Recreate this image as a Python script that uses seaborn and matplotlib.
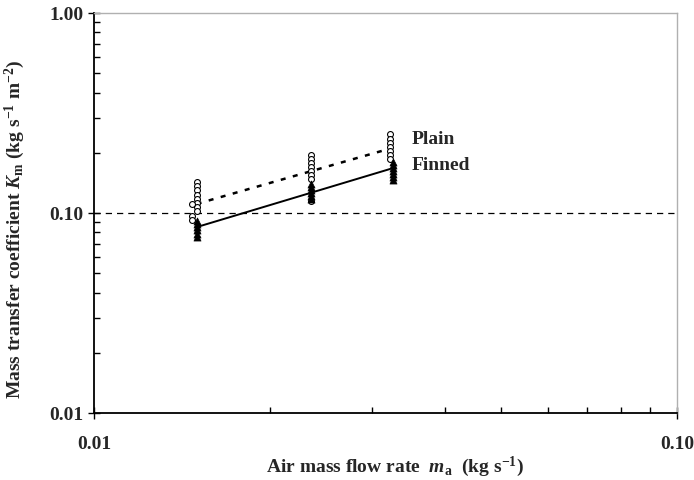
import numpy as np
import pandas as pd
import seaborn as sns
import matplotlib.pyplot as plt
from matplotlib.ticker import FixedLocator, LogLocator, NullFormatter

sns.set_style('white')
plt.rcParams['font.family'] = ['Liberation Serif', 'DejaVu Serif']
plt.rcParams['font.weight'] = 'bold'
plt.rcParams['mathtext.fontset'] = 'custom'
plt.rcParams['mathtext.rm'] = 'Liberation Serif:bold'
plt.rcParams['mathtext.it'] = 'Liberation Serif:bold:italic'
plt.rcParams['mathtext.bf'] = 'Liberation Serif:bold'

# Plain tube measurements
plain_flow = [0.0150] * 8 + [0.0147] * 3 + [0.0236] * 7 + [0.0236] + [0.0322] * 7
plain_coef = [0.143, 0.137, 0.130, 0.123, 0.117, 0.112, 0.107, 0.102,
              0.111, 0.0966, 0.0922,
              0.195, 0.187, 0.178, 0.170, 0.163, 0.155, 0.148,
              0.115,
              0.247, 0.235, 0.225, 0.215, 0.205, 0.196, 0.187]

# Finned tube measurements
finned_flow = [0.0150] * 6 + [0.0236] * 6 + [0.0326] * 7
finned_coef = [0.091, 0.0878, 0.0847, 0.0818, 0.0789, 0.0762,
               0.140, 0.135, 0.130, 0.126, 0.122, 0.118,
               0.180, 0.174, 0.168, 0.162, 0.157, 0.152, 0.147]

# Fitted lines
fit_flow = [0.0150, 0.0322]
plain_fit = [0.111, 0.210]
finned_fit = [0.085, 0.166]

plain_df = pd.DataFrame({'flow': plain_flow, 'coef': plain_coef})
finned_df = pd.DataFrame({'flow': finned_flow, 'coef': finned_coef})
fit_df = pd.DataFrame({'flow': fit_flow, 'plain': plain_fit, 'finned': finned_fit})

fig = plt.figure(figsize=(6.94, 4.80), dpi=100)
ax = fig.add_axes([94 / 694, 1 - 413 / 480, 583 / 694, 400 / 480])
ax.set_xscale('log')
ax.set_yscale('log')

ax.axhline(0.1, color='black', lw=0.9, ls=(0, (5, 4)), zorder=1)

sns.lineplot(data=fit_df, x='flow', y='plain', ax=ax, color='black', lw=1.8,
             ls=(0, (2, 3)), zorder=2)
sns.lineplot(data=fit_df, x='flow', y='finned', ax=ax, color='black', lw=1.4, zorder=2)

sns.scatterplot(data=plain_df, x='flow', y='coef', ax=ax, marker='o', s=18,
                facecolor='white', edgecolor='black', linewidth=0.8, zorder=3)
sns.scatterplot(data=finned_df, x='flow', y='coef', ax=ax, marker='^', s=26,
                color='black', edgecolor='black', linewidth=0.5, zorder=4)

ax.text(0.0351, 0.232, 'Plain', fontsize=14, fontweight='bold', va='center')
ax.text(0.0351, 0.172, 'Finned', fontsize=14, fontweight='bold', va='center')

ax.set_xlim(0.01, 0.1)
ax.set_ylim(0.01, 1.0)

ax.xaxis.set_major_locator(FixedLocator([0.01, 0.1]))
ax.yaxis.set_major_locator(FixedLocator([0.01, 0.1, 1.0]))
ax.set_xticklabels(['0.01', '0.10'])
ax.set_yticklabels(['0.01', '0.10', '1.00'])
ax.xaxis.set_minor_locator(LogLocator(base=10, subs=np.arange(2, 10)))
ax.yaxis.set_minor_locator(LogLocator(base=10, subs=np.arange(2, 10)))
ax.xaxis.set_minor_formatter(NullFormatter())
ax.yaxis.set_minor_formatter(NullFormatter())

ax.tick_params(which='major', direction='inout', length=9, width=1, color='black',
               labelsize=14, pad=3)
ax.tick_params(which='minor', direction='in', length=4, width=1, color='black')
ax.tick_params(axis='x', which='major', pad=12)
ax.tick_params(axis='both', which='both', bottom=True, left=True, top=False, right=False)
for lbl in ax.get_xticklabels() + ax.get_yticklabels():
    lbl.set_fontweight('bold')

for side in ['left', 'bottom']:
    ax.spines[side].set_color('black')
    ax.spines[side].set_linewidth(1.3)
for side in ['top', 'right']:
    ax.spines[side].set_color('#b0b0b0')
    ax.spines[side].set_linewidth(1.0)

ax.set_xlabel(r'Air mass flow rate  $m$$_{\rm a}$  (kg s$^{\mathbf{-1}}$)', fontsize=14,
              fontweight='bold', va='center')
ax.set_ylabel(r'Mass transfer coefficient $K$$_{\rm m}$ (kg s$^{\mathbf{-1}}$ m$^{\mathbf{-2}}$)',
              fontsize=14, fontweight='bold', va='center')
ax.xaxis.set_label_coords(0.516, -0.135)
ax.yaxis.set_label_coords(-0.135, 0.46)

fig.savefig('out.png', dpi=100)
